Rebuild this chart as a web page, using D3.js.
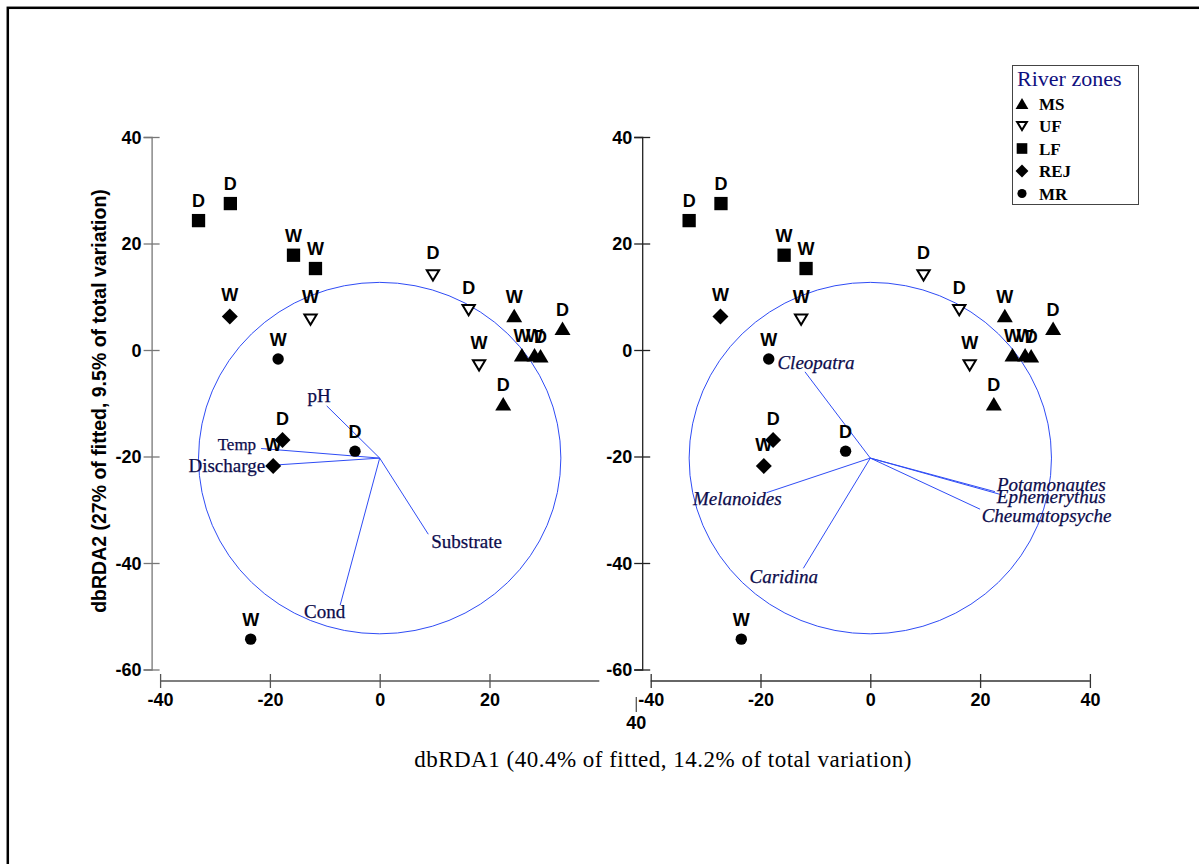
<!DOCTYPE html>
<html><head><meta charset="utf-8">
<script src="https://cdn.jsdelivr.net/npm/d3@7"></script>
<style>
html,body{margin:0;padding:0;background:#fff;}
svg{display:block;}
</style></head><body>
<svg id="chart" width="1199" height="864"></svg>
<script>
// ---------- data ----------
const zones = ["MS", "UF", "LF", "REJ", "MR"];
const sampleZone   = ["MS","MS","MS","MS","MS","MS","UF","UF","UF","UF","LF","LF","LF","LF","REJ","REJ","REJ","MR","MR","MR"];
const samplePeriod = ["W","D","W","W","D","D","D","D","W","W","D","D","W","W","W","D","W","W","D","W"];
const sampleX = [24.5, 33.3, 25.9, 28.2, 29.3, 22.5, 9.7, 16.2, 18.1, -12.6, -33.0, -27.2, -15.7, -11.7, -27.3, -17.7, -19.4, -18.5, -4.5, -23.5];
const sampleY = [6.5, 4.1, -0.9, -0.9, -1.1, -10.1, 14.0, 7.5, -2.9, 5.7, 24.3, 27.5, 17.8, 15.3, 6.3, -16.9, -21.8, -1.7, -19.0, -54.3];

const envNames = ["pH", "Temp", "Discharge", "Substrate", "Cond"];
const envX = [-9.65, -21.6, -20.5, 8.85, -7.2];
const envY = [-10.5, -18.5, -21.7, -34.6, -47.9];

const sppNames = ["Cleopatra", "Melanoides", "Caridina", "Potamonautes", "Ephemerythus", "Cheumatopsyche"];
const sppX = [-11.9, -18.9, -12.2, 22.7, 23.6, 20.0];
const sppY = [-4.1, -26.8, -41.0, -26.6, -27.1, -29.9];

const vecOrigin = [0, -20.3];
const circleRadius = 33;

const xTicksLeft = [-40, -20, 0, 20];
const xTicksRight = [-40, -20, 0, 20, 40];
const yTicks = [-60, -40, -20, 0, 20, 40];

const xTitle = "dbRDA1 (40.4% of fitted, 14.2% of total variation)";
const yTitle = "dbRDA2 (27% of fitted, 9.5% of total variation)";
const legendTitle = "River zones";

// ---------- layout ----------
const svg = d3.select("#chart");
const SANS = "'Liberation Sans', Arial, Helvetica, sans-serif";
const SERIF = "'Liberation Serif', 'Times New Roman', Times, serif";
const BLUE = "#2f4cf5";
const NAVY = "#0c0c4c";
const fmt = d => String(d);

svg.append("rect").attr("x", 7.8).attr("y", 7.8).attr("width", 1300).attr("height", 1000)
  .attr("fill", "none").attr("stroke", "#000").attr("stroke-width", 2.5);

const y = d3.scaleLinear().domain([-60, 40]).range([669.5, 137]);
const panels = [
  { x: d3.scaleLinear().domain([-40, 40]).range([160.1, 599.3]), xt: xTicksLeft, yAxisColor: "#777", xAxisColor: "#555",
    names: envNames, vx: envX, vy: envY, italic: false },
  { x: d3.scaleLinear().domain([-40, 40]).range([650.7, 1089.9]), xt: xTicksRight, yAxisColor: "#222", xAxisColor: "#333",
    names: sppNames, vx: sppX, vy: sppY, italic: true }
];

const labelPlace = {
  pH: { a: "end", dx: 4, dy: -4, size: 19 },
  Temp: { a: "end", dx: -5, dy: 1, size: 17 },
  Discharge: { a: "end", dx: -2, dy: 6, size: 19 },
  Substrate: { a: "start", dx: 3, dy: 14, size: 19 },
  Cond: { a: "middle", dx: -15.5, dy: 13, size: 19 },
  Cleopatra: { a: "middle", dx: 11, dy: -3, size: 19 },
  Melanoides: { a: "end", dx: 15, dy: 12.3, size: 19 },
  Caridina: { a: "middle", dx: -19.5, dy: 15, size: 19 },
  Potamonautes: { a: "start", dx: 2, dy: -1, size: 19 },
  Ephemerythus: { a: "start", dx: -3, dy: 9, size: 19 },
  Cheumatopsyche: { a: "start", dx: 1.6, dy: 12.5, size: 19 }
};

const labelOffset = { MS: 12.5, UF: 16.5, LF: 13.5, REJ: 15, MR: 13 };

function markerPath(zone, s) {
  const p = d3.path();
  if (zone === "MS") { const w = 16 * s, h = 13.5 * s; p.moveTo(0, -h / 2); p.lineTo(w / 2, h / 2); p.lineTo(-w / 2, h / 2); p.closePath(); }
  else if (zone === "UF") { const w = 12.3 * s, h = 10.3 * s; p.moveTo(-w / 2, -h / 2); p.lineTo(w / 2, -h / 2); p.lineTo(0, h / 2); p.closePath(); }
  else if (zone === "LF") { const a = 13.3 * s; p.rect(-a / 2, -a / 2, a, a); }
  else if (zone === "REJ") { const r = 8 * s; p.moveTo(0, -r); p.lineTo(r, 0); p.lineTo(0, r); p.lineTo(-r, 0); p.closePath(); }
  else { const r = 5.7 * s; p.moveTo(r, 0); p.arc(0, 0, r, 0, 2 * Math.PI); }
  return p.toString();
}
function styleMarker(sel, zone) {
  if (zone === "UF") sel.attr("fill", "#fff").attr("stroke", "#000").attr("stroke-width", 2);
  else sel.attr("fill", "#000");
}

const samples = sampleX.map((v, i) => ({ x: v, y: sampleY[i], zone: sampleZone[i], period: samplePeriod[i] }));

panels.forEach((P, pi) => {
  const g = svg.append("g");
  const x = P.x;
  const yAxisX = x(-40) - 8.5;
  const xAxisY = y(-60) + 11.5;

  // y axis
  const ya = g.append("g").attr("transform", `translate(${yAxisX},0)`)
    .call(d3.axisLeft(y).tickValues(yTicks).tickSizeOuter(0).tickSize(8).tickFormat(fmt));
  ya.select(".domain").attr("stroke", P.yAxisColor).attr("stroke-width", 1.3);
  ya.selectAll(".tick line").attr("x1", -8).attr("x2", 8).attr("stroke", P.yAxisColor).attr("stroke-width", 1.3);
  ya.selectAll(".tick text").attr("x", -10).attr("dy", "0.36em")
    .attr("font-family", SANS).attr("font-weight", "bold").attr("font-size", 18).attr("fill", "#000");

  // x axis
  const xa = g.append("g").attr("transform", `translate(0,${xAxisY})`)
    .call(d3.axisBottom(x).tickValues(P.xt).tickSizeOuter(0).tickSize(7).tickFormat(fmt));
  xa.select(".domain").attr("stroke", P.xAxisColor).attr("stroke-width", 1.3)
    .attr("d", `M${x(-40)},0H${x(40)}`);
  xa.selectAll(".tick line").attr("y1", -7).attr("y2", 7).attr("stroke", P.xAxisColor).attr("stroke-width", 1.3);
  xa.selectAll(".tick text").attr("y", 24.5).attr("dy", 0)
    .attr("font-family", SANS).attr("font-weight", "bold").attr("font-size", 18).attr("fill", "#000");

  if (pi === 0) {
    // displaced "40" tick of the left panel
    const dx40 = x(40) + 37;
    g.append("line").attr("x1", dx40).attr("x2", dx40).attr("y1", xAxisY + 16).attr("y2", xAxisY + 31)
      .attr("stroke", P.xAxisColor).attr("stroke-width", 1.3);
    g.append("text").attr("x", dx40).attr("y", xAxisY + 47.5).attr("text-anchor", "middle")
      .attr("font-family", SANS).attr("font-weight", "bold").attr("font-size", 18).text("40");
  }

  // circle
  const cx = x(vecOrigin[0]), cy = y(vecOrigin[1]);
  g.append("ellipse").attr("cx", cx).attr("cy", cy)
    .attr("rx", x(circleRadius) - x(0)).attr("ry", y(0) - y(circleRadius))
    .attr("fill", "none").attr("stroke", BLUE).attr("stroke-width", 1);

  // vectors
  const vecs = P.names.map((n, i) => ({ name: n, x: P.vx[i], y: P.vy[i] }));
  g.selectAll("line.vec").data(vecs).enter().append("line").attr("class", "vec")
    .attr("x1", cx).attr("y1", cy).attr("x2", d => x(d.x)).attr("y2", d => y(d.y))
    .attr("stroke", BLUE).attr("stroke-width", 1);

  // sample labels, then markers
  g.selectAll("text.slab").data(samples).enter().append("text").attr("class", "slab")
    .attr("x", d => x(d.x)).attr("y", d => y(d.y) - labelOffset[d.zone])
    .attr("text-anchor", "middle").attr("font-family", SANS).attr("font-weight", "bold")
    .attr("font-size", 18).attr("fill", "#000").text(d => d.period);

  g.selectAll("path.mk").data(samples).enter().append("path").attr("class", "mk")
    .attr("transform", d => `translate(${x(d.x)},${y(d.y)})`)
    .attr("d", d => markerPath(d.zone, 1))
    .each(function (d) { styleMarker(d3.select(this), d.zone); });

  // vector labels
  g.selectAll("text.vlab").data(vecs).enter().append("text").attr("class", "vlab")
    .attr("x", d => x(d.x) + labelPlace[d.name].dx).attr("y", d => y(d.y) + labelPlace[d.name].dy)
    .attr("text-anchor", d => labelPlace[d.name].a)
    .attr("font-family", SERIF).attr("font-size", d => labelPlace[d.name].size)
    .attr("font-style", P.italic ? "italic" : "normal")
    .attr("fill", NAVY).attr("stroke", NAVY).attr("stroke-width", 0.25).text(d => d.name);
});

// axis titles
svg.append("text").attr("transform", "translate(106,401) rotate(-90)")
  .attr("text-anchor", "middle").attr("font-family", SANS).attr("font-weight", "bold")
  .attr("font-size", 19.5).attr("fill", "#000").text(yTitle);

svg.append("text").attr("x", 663).attr("y", 767).attr("text-anchor", "middle")
  .attr("font-family", SERIF).attr("font-size", 23).attr("letter-spacing", 0.5)
  .attr("fill", "#000").text(xTitle);

// legend
const lg = svg.append("g");
lg.append("rect").attr("x", 1012.5).attr("y", 65.5).attr("width", 126).attr("height", 139)
  .attr("fill", "#fff").attr("stroke", "#444").attr("stroke-width", 1);
lg.append("text").attr("x", 1017).attr("y", 86).attr("font-family", SERIF).attr("font-size", 22)
  .attr("fill", "#10107f").text(legendTitle);
zones.forEach((z, i) => {
  const cyL = 103.5 + i * 22.5;
  const m = lg.append("path").attr("transform", `translate(1022,${cyL})`).attr("d", markerPath(z, 0.8));
  styleMarker(m, z);
  lg.append("text").attr("x", 1039).attr("y", cyL + 6).attr("font-family", SERIF).attr("font-weight", "bold")
    .attr("font-size", 17).attr("fill", "#000").text(z);
});
</script>
</body></html>
